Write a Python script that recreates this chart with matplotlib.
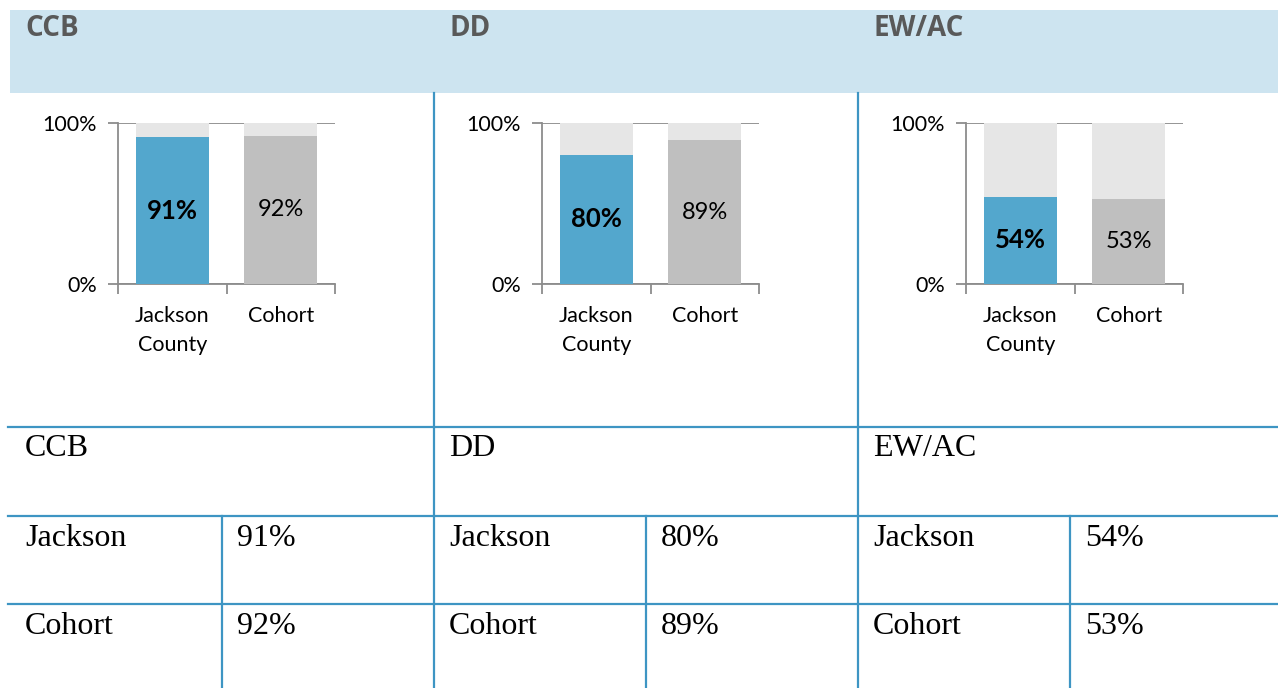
import matplotlib
matplotlib.use("Agg")
import matplotlib.pyplot as plt

# ---- data ----
panels = ["CCB", "DD", "EW/AC"]
categories = ["Jackson\nCounty", "Cohort"]
jackson = [91, 80, 54]
cohort = [92, 89, 53]
table_rows = ["Jackson", "Cohort"]

W, H = 1278, 688
fig = plt.figure(figsize=(W / 100, H / 100), dpi=100)
fig.patch.set_facecolor("white")

# overlay axes in pixel coords
ov = fig.add_axes([0, 0, 1, 1], zorder=0)
ov.set_xlim(0, W)
ov.set_ylim(H, 0)
ov.axis("off")

BLUE_LINE = "#3e95c3"
ov.add_patch(plt.Rectangle((10, 10), W - 10, 83, color="#cde4f0", lw=0))

col_x = [10, 434, 858]
for i, name in enumerate(panels):
    ov.text(col_x[i] + 15, 28, name, fontsize=20, fontweight="bold",
            family="Open Sans", color="#595959", va="center", ha="left")

# table lines
for x in [434, 858]:
    ov.plot([x, x], [93, H], color=BLUE_LINE, lw=1.6)
for x in [222, 646, 1070]:
    ov.plot([x, x], [516, H], color=BLUE_LINE, lw=1.6)
for y in [427, 516, 604]:
    ov.plot([8, W], [y, y], color=BLUE_LINE, lw=1.6)

serif = "Liberation Serif"
for i, name in enumerate(panels):
    x0 = col_x[i] + 15
    ov.text(x0, 449, name, fontsize=23, family=serif, va="center", ha="left")
    vals = [jackson[i], cohort[i]]
    for r, (lab, v) in enumerate(zip(table_rows, vals)):
        y = 539 + r * 88
        ov.text(x0, y, lab, fontsize=23, family=serif, va="center", ha="left")
        ov.text(col_x[i] + 227, y, f"{v}%", fontsize=23, family=serif,
                va="center", ha="left")

# charts
ax_left = [118, 542, 966]
ax_w = 217
ax_top, ax_bot = 122.7, 284
AXC = "#8c8c8c"
for i in range(3):
    ax = fig.add_axes([ax_left[i] / W, 1 - ax_bot / H, ax_w / W,
                       (ax_bot - ax_top) / H], zorder=2)
    ax.patch.set_alpha(0)
    vals = [jackson[i], cohort[i]]
    xs = [0, 1]
    ax.bar(xs, vals, width=0.67, color=["#53a7cd", "#bfbfbf"], zorder=3)
    ax.bar(xs, [100 - v for v in vals], bottom=vals, width=0.67,
           color="#e6e6e6", zorder=3)
    ax.set_xlim(-0.5, 1.5)
    ax.set_ylim(0, 100)
    for sp in ["top", "right"]:
        ax.spines[sp].set_visible(False)
    for sp in ["left", "bottom"]:
        ax.spines[sp].set_color(AXC)
        ax.spines[sp].set_linewidth(1.3)
    ax.set_yticks([0, 100])
    ax.set_yticklabels(["0%", "100%"], family="Lato", fontsize=15.5)
    ax.yaxis.grid(True, color=AXC, lw=1.3, zorder=1)
    ax.tick_params(axis="y", length=7, width=1.3, color=AXC, pad=8)
    ax.set_xticks(xs)
    ax.set_xticklabels(categories, family="Lato", fontsize=15.5,
                       linespacing=1.55)
    ax.set_xticks([-0.5, 0.5, 1.5], minor=True)
    ax.tick_params(axis="x", which="major", length=0, pad=16)
    ax.tick_params(axis="x", which="minor", length=7, width=1.3, color=AXC)
    for j, v in enumerate(vals):
        ax.text(xs[j], v / 2, f"{v}%", ha="center", va="center",
                family="Lato", fontsize=18.5 if j == 0 else 17,
                fontweight="bold" if j == 0 else "normal",
                color="black", zorder=4)

fig.savefig("out.png", dpi=100)
